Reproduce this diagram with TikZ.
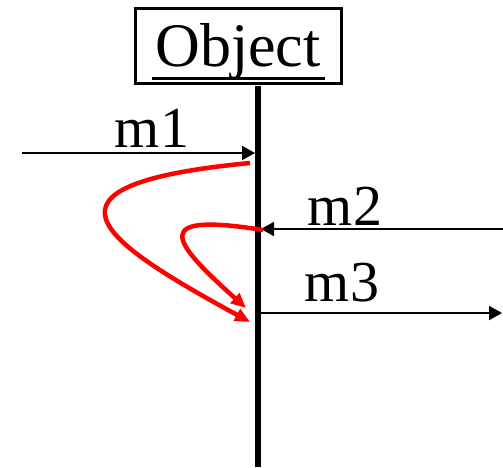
\documentclass[tikz,border=0pt]{standalone}
\usepackage{fontspec}
\setmainfont{Liberation Serif}
\usetikzlibrary{arrows.meta, calc}

\begin{document}
\begin{tikzpicture}[
    x=1pt, y=-1pt,
    objbox/.style={draw, line width=3pt, minimum width=206pt, inner xsep=0pt,
                   inner ysep=6.5pt, text height=52pt, text depth=10pt,
                   font=\rmfamily\fontsize{62}{64}\selectfont},
    msglbl/.style={anchor=base, inner sep=0pt, font=\rmfamily\fontsize{58}{60}\selectfont},
    msg/.style={-{Triangle[length=13pt, width=14pt]}, line width=2pt},
    selfmsg/.style={red, line width=4.5pt, -{Triangle[length=15pt, width=13pt]}}
  ]
    \useasboundingbox (0,0) rectangle (503,467);
    \node[objbox] (obj) at (238,45.5) {Object};
    \draw[line width=3pt] ($(obj.base west)+(18,12)$) -- ($(obj.base east)+(-18,12)$);

    % lifeline
    \coordinate (lltop) at (258,86);
    \coordinate (llbot) at (258,467);
    \draw[line width=6.5pt] (lltop) -- (llbot);

    % messages
    \coordinate (m1src) at (22,153);
    \coordinate (m1in) at (255,153);
    \coordinate (m2src) at (503,229);
    \coordinate (m2in) at (261,229);
    \coordinate (m3out) at (261,313);
    \coordinate (m3dst) at (502,313);
    \draw[msg] (m1src) -- (m1in);
    \draw[msg] (m2src) -- (m2in);
    \draw[msg] (m3out) -- (m3dst);
    \node[msglbl] (l1) at (152,147) {m1};
    \node[msglbl] (l2) at (345,225) {m2};
    \node[msglbl] (l3) at (342,301) {m3};

    % internal flow
    \coordinate (s1) at (250,163);
    \coordinate (e1) at (250,322);
    \coordinate (s2) at (263,230);
    \coordinate (e2) at (246,308);
    \draw[selfmsg] (s1) .. controls (20,185) and (100,240) .. (e1);
    \draw[selfmsg] (s2) .. controls (150,212) and (170,240) .. (e2);
  \end{tikzpicture}
\end{document}
